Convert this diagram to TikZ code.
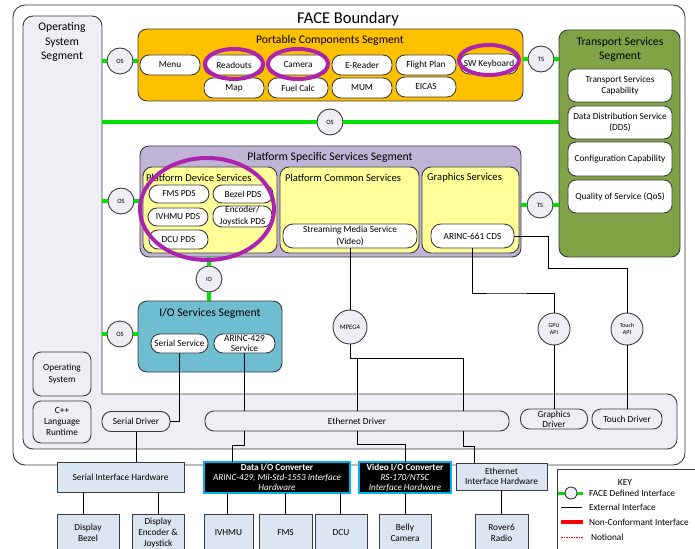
\documentclass[tikz,border=0pt]{standalone}
\usepackage{fontspec}
\setmainfont{Carlito}
\definecolor{edge}{HTML}{3C3C3C}
\definecolor{osfill}{HTML}{EFEEF4}
\definecolor{pcsorange}{HTML}{FFC000}
\definecolor{psspurple}{HTML}{C0B4D6}
\definecolor{svcyellow}{HTML}{FFFF99}
\definecolor{ioteal}{HTML}{6FBDD1}
\definecolor{tssgreen}{HTML}{80A346}
\definecolor{hwblue}{HTML}{DCE6F2}
\definecolor{convcyan}{HTML}{00B0F0}
\definecolor{facegreen}{HTML}{00E000}
\definecolor{hilite}{HTML}{AE22B0}
\definecolor{keyred}{HTML}{FF0000}
\newcommand\fsz[2]{\fontsize{#1}{#2}\selectfont}

\begin{document}
\begin{tikzpicture}[x=1pt,y=-1pt,
  every node/.style={inner sep=0pt, outer sep=0pt, align=center},
  segbox/.style={draw=edge, line width=0.9pt, rounded corners=9pt},
  segtitle/.style={font=\fsz{11.7}{14}},
  subtitle/.style={font=\fsz{10.6}{12}, anchor=west},
  item/.style={draw=edge, line width=0.9pt, fill=white, rounded corners=9pt, font=\fsz{9.3}{11.5}},
  tsitem/.style={item, rounded corners=8pt, minimum width=104pt},
  drvitem/.style={item, fill=osfill},
  iface/.style={circle, draw=edge, line width=0.9pt, fill=osfill, minimum size=26pt, font=\fsz{6.5}{7}},
  api/.style={iface, minimum size=32pt, font=\fsz{6}{7}},
  fdi/.style={draw=facegreen, line width=3.5pt},
  ext/.style={draw=black, line width=0.9pt},
  hwbox/.style={draw=edge, line width=0.9pt, fill=hwblue, font=\fsz{9.3}{11}},
  conv/.style={draw=convcyan, line width=1.3pt, fill=black, text=white, font=\fsz{9.2}{10}},
  circled/.style={draw=hilite, line width=4pt},
  keytext/.style={anchor=west, font=\fsz{9.3}{11}},
]
\useasboundingbox (0,0) rectangle (695,548);
\clip (0,0) rectangle (695,548);
\fill[white] (0,0) rectangle (695,548);

% FACE boundary
\draw[draw=edge, line width=0.9pt, rounded corners=12pt] (13,5) rectangle (685,465);
\node[font=\fsz{16.5}{18}] (facetitle) at (348,19) {FACE Boundary};

% Operating System Segment (L-shaped)
\path[draw=edge, line width=0.9pt, fill=osfill, rounded corners=10pt]
  (23,300) -- (23,16) -- (102,16) -- (102,380) [sharp corners] -- (102,394) -- (300,394)
  [rounded corners=10pt] -- (677,394) -- (677,449) -- (23,449) -- cycle;
\node[font=\fsz{11.7}{14.5}] (ostitle) at (62,42) {Operating\\System\\Segment};
\node[drvitem, rounded corners=8pt, minimum width=58pt, minimum height=44pt] (osys) at (62,374) {Operating\\System};
\node[drvitem, rounded corners=8pt, minimum width=58pt, minimum height=42pt, font=\fsz{9.3}{11}] (cpp) at (62,422) {C++\\Language\\Runtime};
\node[drvitem, minimum width=68pt, minimum height=20pt] (sdrv) at (136,421.5) {Serial Driver};
\node[drvitem, minimum width=304pt, minimum height=20pt] (edrv) at (357,421) {Ethernet Driver};
\node[drvitem, minimum width=67pt, minimum height=20pt, font=\fsz{9.3}{10}] (gdrv) at (554,419) {Graphics\\Driver};
\node[drvitem, minimum width=70pt, minimum height=20pt] (tdrv) at (627,419) {Touch Driver};

% Portable Components Segment
\node[segbox, fill=pcsorange, minimum width=385pt, minimum height=72pt] (pcs) at (330.5,65) {};
\node[segtitle] (pcstitle) at (330,40) {Portable Components Segment};
\node[item, minimum width=60pt, minimum height=20pt] (menu) at (170,65) {Menu};
\node[item, minimum width=60pt, minimum height=20pt] (readouts) at (234,65) {Readouts};
\node[item, minimum width=60pt, minimum height=20pt] (camera) at (298,65) {Camera};
\node[item, minimum width=60pt, minimum height=20pt] (ereader) at (362,65) {E-Reader};
\node[item, minimum width=60pt, minimum height=20pt] (fplan) at (426,65) {Flight Plan};
\node[item, minimum width=58pt, minimum height=20pt] (swkb) at (489,64) {SW Keyboard};
\node[item, minimum width=60pt, minimum height=20pt] (map) at (234,88) {Map};
\node[item, minimum width=60pt, minimum height=20pt] (fuel) at (298,88) {Fuel Calc};
\node[item, minimum width=60pt, minimum height=20pt] (mum) at (362,88) {MUM};
\node[item, minimum width=60pt, minimum height=20pt] (eicas) at (426,87) {EICAS};

% Transport Services Segment
\node[segbox, fill=tssgreen, minimum width=121pt, minimum height=227pt] (tss) at (619.5,143.5) {};
\node[segtitle] (tsstitle) at (620,49) {Transport Services\\Segment};
\node[tsitem, minimum height=33pt] (tsc) at (620,85.5) {Transport Services\\Capability};
\node[tsitem, minimum height=33pt] (dds) at (620,122.5) {Data Distribution Service\\(DDS)};
\node[tsitem, minimum height=34pt] (cfg) at (620,159) {Configuration Capability};
\node[tsitem, minimum height=33pt] (qos) at (620,196.5) {Quality of Service (QoS)};

% Platform Specific Services Segment
\node[segbox, fill=psspurple, minimum width=381pt, minimum height=111pt] (pss) at (330.5,201.5) {};
\node[segtitle] (psstitle) at (330,157) {Platform Specific Services Segment};
\node[segbox, fill=svcyellow, minimum width=134pt, minimum height=86pt] (pds) at (210,210) {};
\node[subtitle] (pdstitle) at (146,178) {Platform Device Services};
\node[segbox, fill=svcyellow, minimum width=139pt, minimum height=86pt] (pcsvc) at (349.5,210) {};
\node[subtitle] (pcsvctitle) at (285,178) {Platform Common Services};
\node[segbox, fill=svcyellow, minimum width=97pt, minimum height=86pt] (gsvc) at (470.5,210) {};
\node[subtitle] (gsvctitle) at (427,178) {Graphics Services};
\node[item, minimum width=60pt, minimum height=18pt] (fmspds) at (179,194) {FMS PDS};
\node[item, minimum width=60pt, minimum height=18pt] (bezpds) at (243,194) {Bezel PDS};
\node[item, minimum width=60pt, minimum height=18pt] (ivhpds) at (178,217) {IVHMU PDS};
\node[item, minimum width=59pt, minimum height=21pt, font=\fsz{9.3}{12}] (encpds) at (242.5,216.5) {Encoder/\\Joystick PDS};
\node[item, minimum width=59pt, minimum height=19pt] (dcupds) at (178.5,239.5) {DCU PDS};
\node[item, minimum width=134pt, minimum height=24pt, rounded corners=10pt] (sms) at (350,236) {Streaming Media Service\\(Video)};
\node[item, minimum width=83pt, minimum height=24pt, rounded corners=10pt] (a661) at (472.5,236) {ARINC-661 CDS};

% I/O Services Segment
\node[segbox, fill=ioteal, minimum width=144pt, minimum height=71pt] (ioseg) at (210,336.5) {};
\node[segtitle] (iotitle) at (210,313) {I/O Services Segment};
\node[item, minimum width=57pt, minimum height=19pt] (sersvc) at (179.5,343.5) {Serial Service};
\node[item, minimum width=61pt, minimum height=19pt, font=\fsz{9.3}{10}] (a429) at (244.5,343.5) {ARINC-429\\Service};

% FACE defined interfaces
\node[iface] (osA) at (120,61) {OS};
\node[iface] (osB) at (330,122) {OS};
\node[iface] (osC) at (121,201) {OS};
\node[iface] (osD) at (120,334) {OS};
\node[iface] (tsA) at (541,59) {TS};
\node[iface] (tsB) at (540,205) {TS};
\node[iface] (ioA) at (209,279) {IO};
\node[api, minimum size=34pt, font=\fsz{6.8}{7}] (mpeg) at (350,327) {MPEG4};
\node[api] (gpu) at (554,329) {GPU\\API};
\node[api] (tapi) at (627,329) {Touch\\API};

\coordinate (ose1) at (102,61);
\coordinate (ose2) at (102,122);
\coordinate (ose3) at (102,201);
\coordinate (ose4) at (102,334);
\draw[fdi] (ose1) -- (osA) -- (pcs.west |- osA);
\draw[fdi] (ose2) -- (osB) -- (tss.west |- osB);
\draw[fdi] (ose3) -- (osC) -- (pss.west |- osC);
\draw[fdi] (ose4) -- (osD) -- (ioseg.west |- osD);
\draw[fdi] (pcs.east |- tsA) -- (tsA) -- (tss.west |- tsA);
\draw[fdi] (pss.east |- tsB) -- (tsB) -- (tss.west |- tsB);
\draw[fdi] (ioA |- pss.south) -- (ioA) -- (ioA |- ioseg.north);

% External interfaces
\coordinate (mj1) at (463,358);
\coordinate (mj2) at (357,358);
\coordinate (vj) at (405,444);
\coordinate (ej) at (474,446);
\coordinate (aj) at (232,445);
\coordinate (gj) at (500,293);
\coordinate (tj) at (548,268);
\draw[ext] (sms.south) -- (mpeg.north);
\draw[ext] (mpeg.south) |- (mj1) -- (mj1 |- edrv.north);
\draw[ext] (mj2) -- (edrv.north);
\draw[ext] (a429.south) -- (a429.south |- edrv.north);
\draw[ext] (sersvc.south) |- (sdrv.east);
\draw[ext] (a661.south) |- (gj) -| (gpu.north);
\draw[ext] (a661.east) -| (tj) -| (tapi.north);
\draw[ext] (gpu.south) -- (gdrv.north);
\draw[ext] (tapi.south) -- (tdrv.north);

% Hardware
\node[hwbox, minimum width=127pt, minimum height=30pt] (sih) at (120.5,477) {Serial Interface Hardware};
\node[conv, minimum width=146pt, minimum height=31pt] (dio) at (277,477.5) {\textbf{Data I/O Converter}\\\textit{ARINC-429, Mil-Std-1553 Interface}\\\textit{Hardware}};
\node[conv, minimum width=92pt, minimum height=31pt] (vio) at (405,477.5) {\textbf{Video I/O Converter}\\\textit{RS-170/NTSC}\\\textit{Interface Hardware}};
\node[hwbox, minimum width=91pt, minimum height=27pt, font=\fsz{9.3}{9.5}] (ehw) at (501.5,476.5) {Ethernet\\Interface Hardware};

\node[hwbox, minimum width=62pt, minimum height=38pt] (bezel) at (88,533) {Display\\Bezel};
\node[hwbox, minimum width=52pt, minimum height=38pt] (encjoy) at (158,533) {Display\\Encoder \&\\Joystick};
\node[hwbox, minimum width=49pt, minimum height=38pt] (ivhmu) at (228.5,533) {IVHMU};
\node[hwbox, minimum width=53pt, minimum height=38pt] (fms) at (285.5,533) {FMS};
\node[hwbox, minimum width=52pt, minimum height=38pt] (dcu) at (341,533) {DCU};
\node[hwbox, minimum width=52pt, minimum height=38pt] (belly) at (405,533) {Belly\\Camera};
\node[hwbox, minimum width=53pt, minimum height=38pt] (rover) at (501.5,533) {Rover6\\Radio};

\draw[ext] (sdrv.south) -- (sdrv.south |- sih.north);
\draw[ext] (a429.south |- edrv.south) |- (aj) -- (aj |- dio.north);
\draw[ext] (edrv.south) |- (vj) -- (vio.north);
\draw[ext] (mj1 |- edrv.south) |- (ej) -- (ej |- ehw.north);
\draw[ext] (bezel.north -| 83,0) -- (83,0 |- sih.south);
\draw[ext] (encjoy.north) -- (encjoy.north |- sih.south);
\draw[ext] (ivhmu.north -| 227,0) -- (227,0 |- dio.south);
\draw[ext] (fms.north) -- (fms.north |- dio.south);
\draw[ext] (dcu.north -| 340,0) -- (340,0 |- dio.south);
\draw[ext] (belly.north) -- (vio.south);
\draw[ext] (rover.north) -- (ehw.south);

% Highlighted components
\draw[circled] (234,64) ellipse [x radius=29, y radius=15];
\draw[circled] (298,64) ellipse [x radius=30, y radius=15];
\draw[circled] (489,60) ellipse [x radius=30, y radius=15];
\draw[circled] (207,209) ellipse [x radius=67, y radius=51];

% Key
\node[draw=edge, line width=0.9pt, fill=white, minimum width=163pt, minimum height=91pt] (keybox) at (638.5,514.5) {};
\node[font=\fsz{9.5}{11}] (keytitle) at (625,482) {KEY};
\coordinate (kl1) at (558,493); \coordinate (kr1) at (583,493);
\draw[fdi, line width=3pt] (kl1) -- (kr1);
\node[circle, draw=edge, line width=0.9pt, fill=osfill, minimum size=12pt] (kcirc) at (571,493) {};
\node[keytext] (kt1) at (589,493) {FACE Defined Interface};
\coordinate (kl2) at (561,507); \coordinate (kr2) at (582,507);
\draw[ext] (kl2) -- (kr2);
\node[keytext] (kt2) at (589,507) {External Interface};
\coordinate (kl3) at (561,522); \coordinate (kr3) at (583,522);
\draw[keyred, line width=3.5pt] (kl3) -- (kr3);
\node[keytext] (kt3) at (589,522) {Non-Conformant Interface};
\coordinate (kl4) at (561,537); \coordinate (kr4) at (583,537);
\draw[draw=keyred, line width=1pt, dash pattern=on 1.5pt off 1pt] (kl4) -- (kr4);
\node[keytext] (kt4) at (591,537) {Notional};
\end{tikzpicture}
\end{document}
